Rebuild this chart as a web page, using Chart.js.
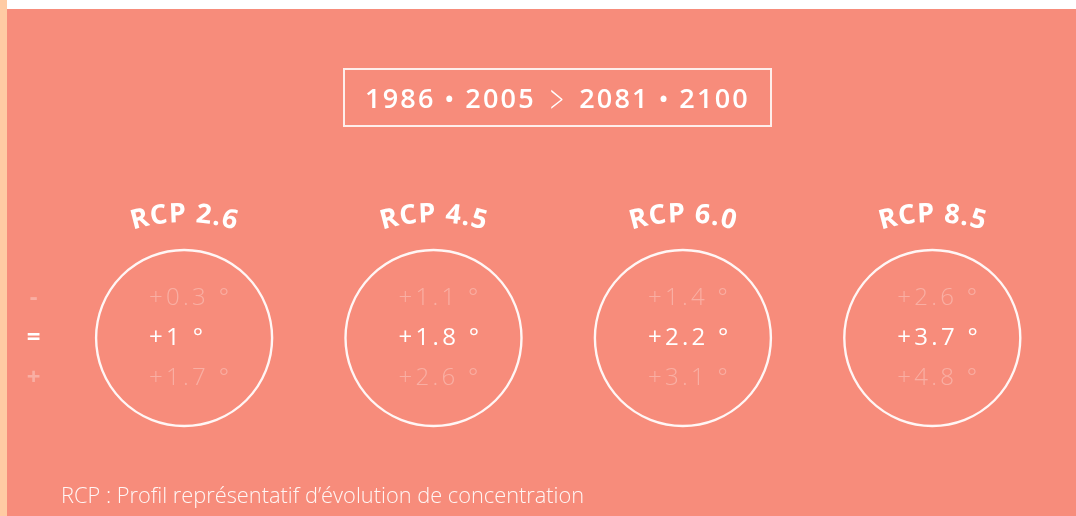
<!DOCTYPE html>
<html lang="fr">
<head>
<meta charset="utf-8">
<title>RCP 1986-2005 > 2081-2100</title>
<script src="https://cdn.jsdelivr.net/npm/chart.js@4.4.1/dist/chart.umd.min.js"></script>
<style>
  html, body { margin: 0; padding: 0; }
  body {
    width: 1076px; height: 516px; position: relative; overflow: hidden;
    background: #fff; font-family: "Open Sans", sans-serif;
  }
  .strip { position: absolute; left: 0; top: 0; width: 7px; height: 516px; background: #FFCBA3; }
  .panel { position: absolute; left: 7px; top: 9px; right: 0; bottom: 0; background: #F78C7B; }
  #chart { position: absolute; left: 0; top: 0; }
  .period {
    position: absolute; left: 343px; top: 68px; width: 429px; height: 59px;
    box-sizing: border-box; border: 2px solid rgba(255, 255, 255, 0.85);
    color: #fff; font: 600 27px "Open Sans", sans-serif; letter-spacing: 2.2px;
    display: flex; align-items: center; justify-content: center; white-space: pre;
  }
  .period .dot { font-size: 24px; }
  .period .arrow {
    display: inline-block; font-weight: 300; font-size: 30px;
    margin: 0 12px; transform: translateY(1px) scale(0.8, 1.35);
  }
  .note {
    position: absolute; left: 61px; top: 480px;
    color: rgba(255, 255, 255, 0.92); font: 300 21.8px "Open Sans", sans-serif;
  }
</style>
</head>
<body>
<div class="strip"></div>
<div class="panel"></div>
<canvas id="chart" width="1076" height="516"></canvas>
<div class="period">1986 <span class="dot">•</span> 2005<span class="arrow">&gt;</span>2081 <span class="dot">•</span> 2100</div>
<div class="note">RCP : Profil représentatif d’évolution de concentration</div>

<script>
/* ---- Data ---- */
const scenarios = ["RCP 2.6", "RCP 4.5", "RCP 6.0", "RCP 8.5"];
const rowMarks = ["-", "=", "+"];
const lowWarming = [0.3, 1.1, 1.4, 2.6];
const midWarming = [1, 1.8, 2.2, 3.7];
const highWarming = [1.7, 2.6, 3.1, 4.8];

const WHITE = "#ffffff";
const FADED = "rgba(255, 255, 255, 0.3)";

function rowPoints(mark, values) {
  return scenarios.map((s, i) => ({ x: s, y: mark, v: values[i] }));
}

/* ---- Curved title text ---- */
function drawArcText(ctx, text, cx, cy, r, spacing) {
  const chars = [...text];
  const widths = chars.map((c) => ctx.measureText(c).width + spacing);
  const total = widths.reduce((a, b) => a + b, 0) - spacing;
  let angle = -Math.PI / 2 - total / r / 2;
  chars.forEach((c, i) => {
    const w = widths[i] - spacing;
    const mid = angle + w / 2 / r;
    ctx.save();
    ctx.translate(cx + r * Math.cos(mid), cy + r * Math.sin(mid));
    ctx.rotate(mid + Math.PI / 2);
    ctx.fillText(c, 0, 0);
    ctx.restore();
    angle += widths[i] / r;
  });
}

const labelPlugin = {
  id: "rcpLabels",
  afterDatasetsDraw(chart) {
    const { ctx } = chart;
    const circleMeta = chart.getDatasetMeta(0);
    const radius = chart.data.datasets[0].pointRadius;
    const arcR = 170;

    // scenario titles, bent over each circle
    ctx.save();
    ctx.fillStyle = WHITE;
    ctx.font = "700 27px 'Open Sans', sans-serif";
    ctx.textAlign = "center";
    ctx.textBaseline = "alphabetic";
    circleMeta.data.forEach((pt, i) => {
      const baseY = pt.y - radius - 28;
      drawArcText(ctx, scenarios[i], pt.x, baseY + arcR, arcR, 1);
    });
    ctx.restore();

    // warming values inside the circles
    chart.data.datasets.forEach((ds, d) => {
      if (d === 0) return;
      const meta = chart.getDatasetMeta(d);
      ctx.save();
      ctx.fillStyle = ds.textColor;
      ctx.font = ds.textFont;
      ctx.letterSpacing = "3.3px";
      ctx.textAlign = "left";
      ctx.textBaseline = "middle";
      meta.data.forEach((pt, i) => {
        ctx.fillText("+" + ds.data[i].v + " °", pt.x - 35, pt.y);
      });
      ctx.restore();
    });
  },
};

new Chart(document.getElementById("chart"), {
  type: "scatter",
  data: {
    datasets: [
      {
        label: "scénario",
        data: scenarios.map((s) => ({ x: s, y: "=" })),
        pointRadius: 88,
        pointHoverRadius: 88,
        borderColor: "rgba(255, 255, 255, 0.92)",
        borderWidth: 2.4,
        backgroundColor: "transparent",
        clip: false,
      },
      {
        label: "min",
        data: rowPoints("-", lowWarming),
        pointRadius: 0,
        textColor: FADED,
        textFont: "300 24px 'Open Sans', sans-serif",
      },
      {
        label: "moyenne",
        data: rowPoints("=", midWarming),
        pointRadius: 0,
        textColor: WHITE,
        textFont: "400 24px 'Open Sans', sans-serif",
      },
      {
        label: "max",
        data: rowPoints("+", highWarming),
        pointRadius: 0,
        textColor: FADED,
        textFont: "300 24px 'Open Sans', sans-serif",
      },
    ],
  },
  options: {
    responsive: false,
    animation: false,
    events: [],
    layout: { autoPadding: false, padding: { left: 7, right: 19, top: 278, bottom: 118 } },
    plugins: { legend: { display: false }, tooltip: { enabled: false } },
    scales: {
      x: {
        type: "category",
        labels: scenarios,
        offset: true,
        display: false,
      },
      y: {
        type: "category",
        labels: rowMarks,
        offset: true,
        grid: { display: false },
        border: { display: false },
        afterFit: (scale) => { scale.width = 52.4; },
        ticks: {
          crossAlign: "center",
          padding: 11,
          font: { family: "'Open Sans', sans-serif", size: 24, weight: "700" },
          color: (c) => (c.index === 1 ? WHITE : FADED),
        },
      },
    },
  },
  plugins: [labelPlugin],
});
</script>
</body>
</html>
